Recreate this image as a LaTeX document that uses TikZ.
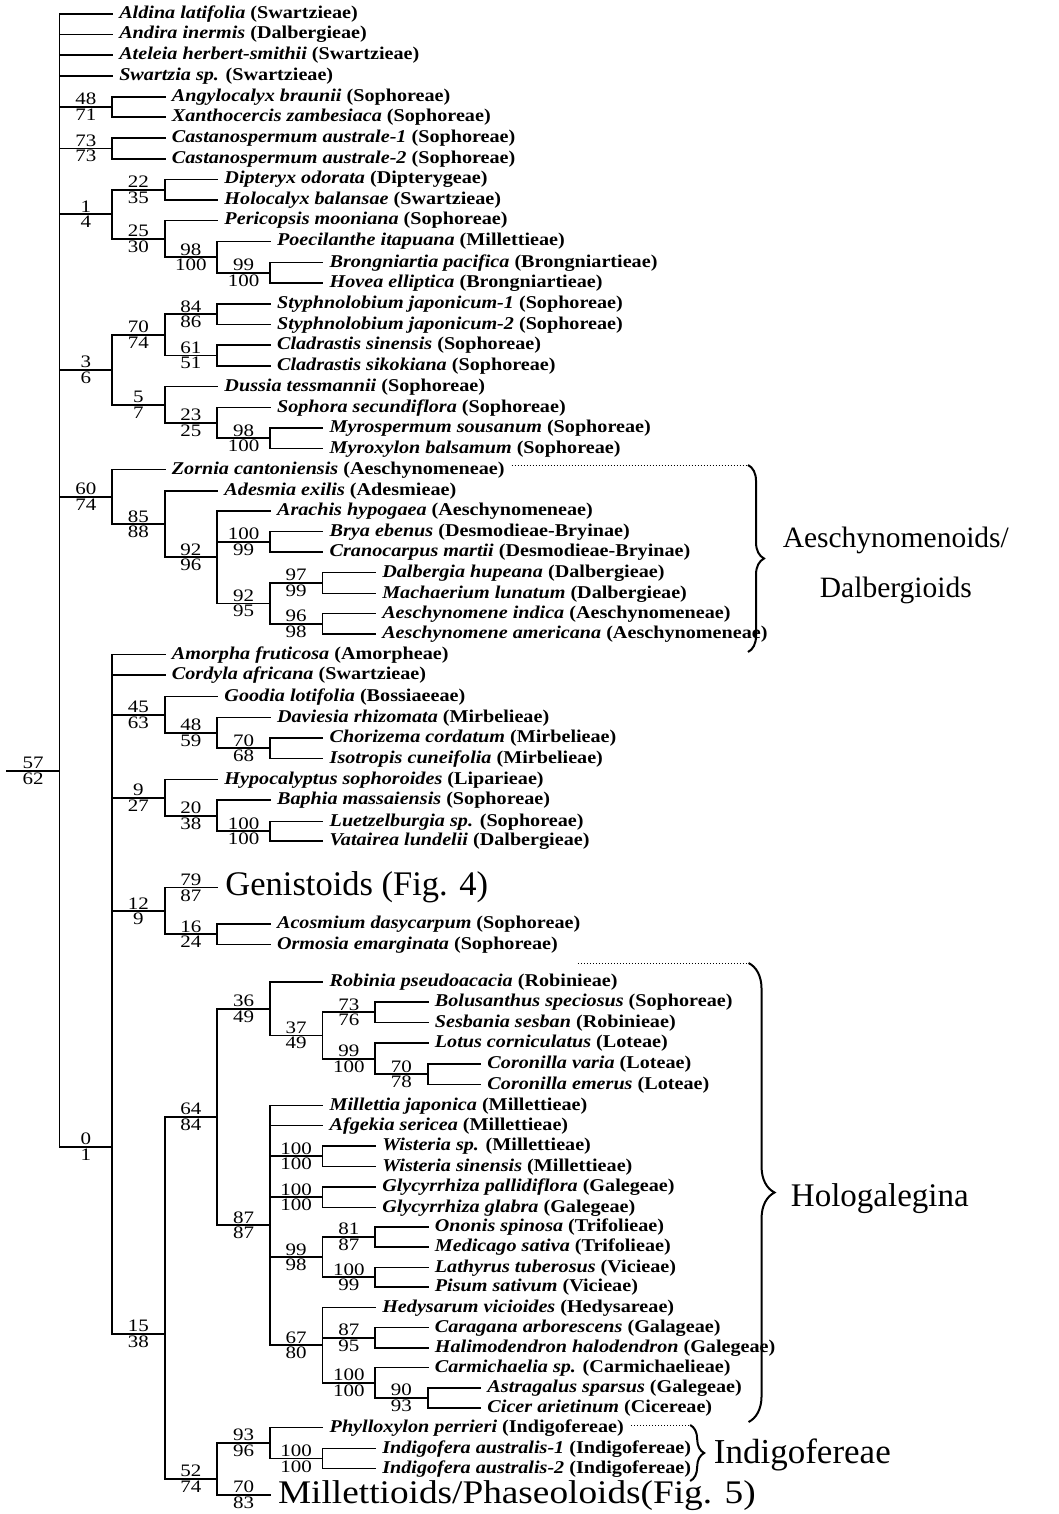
\documentclass[tikz,border=0pt]{standalone}
\usepackage{fontspec}
\setmainfont{Liberation Serif}
\newfontfamily\taxfont{Liberation Serif}[FakeStretch=1.12]
\newfontfamily\numfont{Liberation Serif}[FakeStretch=1.2]
\newfontfamily\wideserif{Liberation Serif}[FakeStretch=1.13]
\usetikzlibrary{decorations.pathreplacing}
\newcommand{\taxon}[2]{\textbf{\textit{#1}} \textbf{(#2)}}
\tikzset{
  branch/.style={line width=1.8pt, line cap=rect},
  taxon/.style={anchor=west, inner xsep=7pt, inner ysep=0pt, text height=13pt,
    text depth=4pt, font=\taxfont\fontsize{18}{20}\selectfont},
  up/.style={above, inner sep=1pt, font=\numfont\fontsize{17.5}{18}\selectfont},
  dn/.style={below, inner sep=1pt, font=\numfont\fontsize{17.5}{18}\selectfont},
  group/.style={anchor=west, inner xsep=8pt, inner ysep=0pt, text height=22pt,
    text depth=6pt, font=\fontsize{33}{40}\selectfont},
  hint/.style={dotted, line width=1pt},
  curly/.style={decorate, decoration={brace, amplitude=#1}, line width=2pt},
}
\begin{document}
\begin{tikzpicture}[x=52.6pt, y=-1pt]
\useasboundingbox (-1.131,0) rectangle (19.002,1514);

\coordinate (stem) at (-1,771);
\coordinate (root) at (0,771);
\coordinate (cl-angy) at (1,107);
\coordinate (cl-cast) at (1,148.5);
\coordinate (cl-dipg) at (1,214.3);
\coordinate (cl-dipt) at (2,189.75);
\coordinate (cl-peri) at (2,238.8);
\coordinate (cl-poec) at (3,257.1);
\coordinate (cl-bron) at (4,272.75);
\coordinate (cl-stpg) at (1,369.8);
\coordinate (cl-clag) at (2,334.9);
\coordinate (cl-styp) at (3,314.25);
\coordinate (cl-clad) at (3,355.5);
\coordinate (cl-duss) at (2,404.7);
\coordinate (cl-soph) at (3,422.9);
\coordinate (cl-myro) at (4,438.25);
\coordinate (cl-aesg) at (1,496.8);
\coordinate (cl-ades) at (2,524.1);
\coordinate (cl-arac) at (3,557.2);
\coordinate (cl-brya) at (4,541.75);
\coordinate (cl-dalg) at (4,603.4);
\coordinate (cl-dalb) at (5,583);
\coordinate (cl-aesc) at (5,623.75);
\coordinate (cl-papi) at (1,1147);
\coordinate (cl-good) at (2,714.7);
\coordinate (cl-davi) at (3,732.9);
\coordinate (cl-chor) at (4,748.25);
\coordinate (cl-hypo) at (2,797.6);
\coordinate (cl-baph) at (3,815.6);
\coordinate (cl-luet) at (4,831.25);
\coordinate (cl-geng) at (2,911);
\coordinate (cl-acos) at (3,934.25);
\coordinate (cl-core) at (2,1334);
\coordinate (cl-holo) at (3,1117);
\coordinate (cl-robi) at (4,1008.7);
\coordinate (cl-bolg) at (5,1035.4);
\coordinate (cl-bolu) at (6,1012.25);
\coordinate (cl-lotu) at (6,1058.6);
\coordinate (cl-coro) at (7,1074.25);
\coordinate (cl-mill) at (4,1225.3);
\coordinate (cl-wist) at (5,1156.25);
\coordinate (cl-glyc) at (5,1197.25);
\coordinate (cl-onog) at (5,1257.1);
\coordinate (cl-onon) at (6,1237);
\coordinate (cl-lath) at (6,1277.25);
\coordinate (cl-hedg) at (5,1345.1);
\coordinate (cl-cara) at (6,1337.75);
\coordinate (cl-carm) at (6,1382.75);
\coordinate (cl-astr) at (7,1398);
\coordinate (cl-indg) at (3,1479);
\coordinate (cl-phyl) at (4,1443);
\coordinate (cl-indi) at (5,1458.5);

\node[taxon] (aldina) at (1,14) {\taxon{Aldina latifolia}{Swartzieae}};
\node[taxon] (andira) at (1,34.5) {\taxon{Andira inermis}{Dalbergieae}};
\node[taxon] (ateleia) at (1,55) {\taxon{Ateleia herbert-smithii}{Swartzieae}};
\node[taxon] (swartzia) at (1,76) {\taxon{Swartzia sp.}{Swartzieae}};
\node[taxon] (angy) at (2,97) {\taxon{Angylocalyx braunii}{Sophoreae}};
\node[taxon] (xant) at (2,117) {\taxon{Xanthocercis zambesiaca}{Sophoreae}};
\node[taxon] (cast1) at (2,138) {\taxon{Castanospermum australe-1}{Sophoreae}};
\node[taxon] (cast2) at (2,159) {\taxon{Castanospermum australe-2}{Sophoreae}};
\node[taxon] (dipt) at (3,179.5) {\taxon{Dipteryx odorata}{Dipterygeae}};
\node[taxon] (holc) at (3,200) {\taxon{Holocalyx balansae}{Swartzieae}};
\node[taxon] (peri) at (3,220.5) {\taxon{Pericopsis mooniana}{Sophoreae}};
\node[taxon] (poec) at (4,241.5) {\taxon{Poecilanthe itapuana}{Millettieae}};
\node[taxon] (bron) at (5,262.5) {\taxon{Brongniartia pacifica}{Brongniartieae}};
\node[taxon] (hove) at (5,283) {\taxon{Hovea elliptica}{Brongniartieae}};
\node[taxon] (styp1) at (4,304) {\taxon{Styphnolobium japonicum-1}{Sophoreae}};
\node[taxon] (styp2) at (4,324.5) {\taxon{Styphnolobium japonicum-2}{Sophoreae}};
\node[taxon] (clsin) at (4,345) {\taxon{Cladrastis sinensis}{Sophoreae}};
\node[taxon] (clsik) at (4,366) {\taxon{Cladrastis sikokiana}{Sophoreae}};
\node[taxon] (duss) at (3,386.5) {\taxon{Dussia tessmannii}{Sophoreae}};
\node[taxon] (soph) at (4,407.5) {\taxon{Sophora secundiflora}{Sophoreae}};
\node[taxon] (myrsp) at (5,428) {\taxon{Myrospermum sousanum}{Sophoreae}};
\node[taxon] (myrxy) at (5,448.5) {\taxon{Myroxylon balsamum}{Sophoreae}};
\node[taxon] (zorn) at (2,469.5) {\taxon{Zornia cantoniensis}{Aeschynomeneae}};
\node[taxon] (ades) at (3,491) {\taxon{Adesmia exilis}{Adesmieae}};
\node[taxon] (arac) at (4,511) {\taxon{Arachis hypogaea}{Aeschynomeneae}};
\node[taxon] (brya) at (5,531.5) {\taxon{Brya ebenus}{Desmodieae-Bryinae}};
\node[taxon] (cran) at (5,552) {\taxon{Cranocarpus martii}{Desmodieae-Bryinae}};
\node[taxon] (dalb) at (6,572.5) {\taxon{Dalbergia hupeana}{Dalbergieae}};
\node[taxon] (mach) at (6,593.5) {\taxon{Machaerium lunatum}{Dalbergieae}};
\node[taxon] (aeind) at (6,613.5) {\taxon{Aeschynomene indica}{Aeschynomeneae}};
\node[taxon] (aeame) at (6,634) {\taxon{Aeschynomene americana}{Aeschynomeneae}};
\node[taxon] (amor) at (2,654.5) {\taxon{Amorpha fruticosa}{Amorpheae}};
\node[taxon] (cord) at (2,675) {\taxon{Cordyla africana}{Swartzieae}};
\node[taxon] (good) at (3,696.5) {\taxon{Goodia lotifolia}{Bossiaeeae}};
\node[taxon] (davi) at (4,717.5) {\taxon{Daviesia rhizomata}{Mirbelieae}};
\node[taxon] (chor) at (5,738) {\taxon{Chorizema cordatum}{Mirbelieae}};
\node[taxon] (isot) at (5,758.5) {\taxon{Isotropis cuneifolia}{Mirbelieae}};
\node[taxon] (hypo) at (3,779.5) {\taxon{Hypocalyptus sophoroides}{Liparieae}};
\node[taxon] (baph) at (4,800) {\taxon{Baphia massaiensis}{Sophoreae}};
\node[taxon] (luet) at (5,821.5) {\taxon{Luetzelburgia sp.}{Sophoreae}};
\node[taxon] (vata) at (5,841) {\taxon{Vatairea lundelii}{Dalbergieae}};
\node[group, font=\fontsize{34.5}{40}\selectfont] (geni) at (3,887.5) {Genistoids (Fig. 4)};
\node[taxon] (acos) at (4,924) {\taxon{Acosmium dasycarpum}{Sophoreae}};
\node[taxon] (ormo) at (4,944.5) {\taxon{Ormosia emarginata}{Sophoreae}};
\node[taxon] (robi) at (5,982) {\taxon{Robinia pseudoacacia}{Robinieae}};
\node[taxon] (bolu) at (7,1002) {\taxon{Bolusanthus speciosus}{Sophoreae}};
\node[taxon] (sesb) at (7,1022.5) {\taxon{Sesbania sesban}{Robinieae}};
\node[taxon] (lotu) at (7,1043) {\taxon{Lotus corniculatus}{Loteae}};
\node[taxon] (corva) at (8,1064) {\taxon{Coronilla varia}{Loteae}};
\node[taxon] (corem) at (8,1084.5) {\taxon{Coronilla emerus}{Loteae}};
\node[taxon] (mija) at (5,1105.5) {\taxon{Millettia japonica}{Millettieae}};
\node[taxon] (afge) at (5,1125.5) {\taxon{Afgekia sericea}{Millettieae}};
\node[taxon] (wisp) at (6,1146) {\taxon{Wisteria sp.}{Millettieae}};
\node[taxon] (wisi) at (6,1166.5) {\taxon{Wisteria sinensis}{Millettieae}};
\node[taxon] (glyp) at (6,1187) {\taxon{Glycyrrhiza pallidiflora}{Galegeae}};
\node[taxon] (glyg) at (6,1207.5) {\taxon{Glycyrrhiza glabra}{Galegeae}};
\node[taxon] (onsp) at (7,1227) {\taxon{Ononis spinosa}{Trifolieae}};
\node[taxon] (mesa) at (7,1247) {\taxon{Medicago sativa}{Trifolieae}};
\node[taxon] (latu) at (7,1267.5) {\taxon{Lathyrus tuberosus}{Vicieae}};
\node[taxon] (pisa) at (7,1287) {\taxon{Pisum sativum}{Vicieae}};
\node[taxon] (hedy) at (6,1307.5) {\taxon{Hedysarum vicioides}{Hedysareae}};
\node[taxon] (caar) at (7,1327.5) {\taxon{Caragana arborescens}{Galageae}};
\node[taxon] (haha) at (7,1348) {\taxon{Halimodendron halodendron}{Galegeae}};
\node[taxon] (casp) at (7,1367.5) {\taxon{Carmichaelia sp.}{Carmichaelieae}};
\node[taxon] (assp) at (8,1388) {\taxon{Astragalus sparsus}{Galegeae}};
\node[taxon] (ciar) at (8,1408) {\taxon{Cicer arietinum}{Cicereae}};
\node[taxon] (phpe) at (5,1427.5) {\taxon{Phylloxylon perrieri}{Indigofereae}};
\node[taxon] (inau1) at (6,1448.5) {\taxon{Indigofera australis-1}{Indigofereae}};
\node[taxon] (inau2) at (6,1468.5) {\taxon{Indigofera australis-2}{Indigofereae}};
\node[group, font=\wideserif\fontsize{33}{40}\selectfont] (milph) at (4,1495) {Millettioids/Phaseoloids(Fig. 5)};

\draw[branch] (stem) -- node[up]{57} node[dn]{62} (root);
\draw[branch] (root) |- (aldina);
\draw[branch] (root) |- (andira);
\draw[branch] (root) |- (ateleia);
\draw[branch] (root) |- (swartzia);
\draw[branch] (root) |- node[up,pos=.75]{48} node[dn,pos=.75]{71} (cl-angy);
\draw[branch] (cl-angy) |- (angy);
\draw[branch] (cl-angy) |- (xant);
\draw[branch] (root) |- node[up,pos=.75]{73} node[dn,pos=.75]{73} (cl-cast);
\draw[branch] (cl-cast) |- (cast1);
\draw[branch] (cl-cast) |- (cast2);
\draw[branch] (root) |- node[up,pos=.75]{1} node[dn,pos=.75]{4} (cl-dipg);
\draw[branch] (cl-dipg) |- node[up,pos=.75]{22} node[dn,pos=.75]{35} (cl-dipt);
\draw[branch] (cl-dipt) |- (dipt);
\draw[branch] (cl-dipt) |- (holc);
\draw[branch] (cl-dipg) |- node[up,pos=.75]{25} node[dn,pos=.75]{30} (cl-peri);
\draw[branch] (cl-peri) |- (peri);
\draw[branch] (cl-peri) |- node[up,pos=.75]{98} node[dn,pos=.75]{100} (cl-poec);
\draw[branch] (cl-poec) |- (poec);
\draw[branch] (cl-poec) |- node[up,pos=.75]{99} node[dn,pos=.75]{100} (cl-bron);
\draw[branch] (cl-bron) |- (bron);
\draw[branch] (cl-bron) |- (hove);
\draw[branch] (root) |- node[up,pos=.75]{3} node[dn,pos=.75]{6} (cl-stpg);
\draw[branch] (cl-stpg) |- node[up,pos=.75]{70} node[dn,pos=.75]{74} (cl-clag);
\draw[branch] (cl-clag) |- node[up,pos=.75]{84} node[dn,pos=.75]{86} (cl-styp);
\draw[branch] (cl-styp) |- (styp1);
\draw[branch] (cl-styp) |- (styp2);
\draw[branch] (cl-clag) |- node[up,pos=.75]{61} node[dn,pos=.75]{51} (cl-clad);
\draw[branch] (cl-clad) |- (clsin);
\draw[branch] (cl-clad) |- (clsik);
\draw[branch] (cl-stpg) |- node[up,pos=.75]{5} node[dn,pos=.75]{7} (cl-duss);
\draw[branch] (cl-duss) |- (duss);
\draw[branch] (cl-duss) |- node[up,pos=.75]{23} node[dn,pos=.75]{25} (cl-soph);
\draw[branch] (cl-soph) |- (soph);
\draw[branch] (cl-soph) |- node[up,pos=.75]{98} node[dn,pos=.75]{100} (cl-myro);
\draw[branch] (cl-myro) |- (myrsp);
\draw[branch] (cl-myro) |- (myrxy);
\draw[branch] (root) |- node[up,pos=.75]{60} node[dn,pos=.75]{74} (cl-aesg);
\draw[branch] (cl-aesg) |- (zorn);
\draw[branch] (cl-aesg) |- node[up,pos=.75]{85} node[dn,pos=.75]{88} (cl-ades);
\draw[branch] (cl-ades) |- (ades);
\draw[branch] (cl-ades) |- node[up,pos=.75]{92} node[dn,pos=.75]{96} (cl-arac);
\draw[branch] (cl-arac) |- (arac);
\draw[branch] (cl-arac) |- node[up,pos=.75]{100} node[dn,pos=.75]{99} (cl-brya);
\draw[branch] (cl-brya) |- (brya);
\draw[branch] (cl-brya) |- (cran);
\draw[branch] (cl-arac) |- node[up,pos=.75]{92} node[dn,pos=.75]{95} (cl-dalg);
\draw[branch] (cl-dalg) |- node[up,pos=.75]{97} node[dn,pos=.75]{99} (cl-dalb);
\draw[branch] (cl-dalb) |- (dalb);
\draw[branch] (cl-dalb) |- (mach);
\draw[branch] (cl-dalg) |- node[up,pos=.75]{96} node[dn,pos=.75]{98} (cl-aesc);
\draw[branch] (cl-aesc) |- (aeind);
\draw[branch] (cl-aesc) |- (aeame);
\draw[branch] (root) |- node[up,pos=.75]{0} node[dn,pos=.75]{1} (cl-papi);
\draw[branch] (cl-papi) |- (amor);
\draw[branch] (cl-papi) |- (cord);
\draw[branch] (cl-papi) |- node[up,pos=.75]{45} node[dn,pos=.75]{63} (cl-good);
\draw[branch] (cl-good) |- (good);
\draw[branch] (cl-good) |- node[up,pos=.75]{48} node[dn,pos=.75]{59} (cl-davi);
\draw[branch] (cl-davi) |- (davi);
\draw[branch] (cl-davi) |- node[up,pos=.75]{70} node[dn,pos=.75]{68} (cl-chor);
\draw[branch] (cl-chor) |- (chor);
\draw[branch] (cl-chor) |- (isot);
\draw[branch] (cl-papi) |- node[up,pos=.75]{9} node[dn,pos=.75]{27} (cl-hypo);
\draw[branch] (cl-hypo) |- (hypo);
\draw[branch] (cl-hypo) |- node[up,pos=.75]{20} node[dn,pos=.75]{38} (cl-baph);
\draw[branch] (cl-baph) |- (baph);
\draw[branch] (cl-baph) |- node[up,pos=.75]{100} node[dn,pos=.75]{100} (cl-luet);
\draw[branch] (cl-luet) |- (luet);
\draw[branch] (cl-luet) |- (vata);
\draw[branch] (cl-papi) |- node[up,pos=.75]{12} node[dn,pos=.75]{9} (cl-geng);
\draw[branch] (cl-geng) |- node[up,pos=.75]{79} node[dn,pos=.75]{87} (geni);
\draw[branch] (cl-geng) |- node[up,pos=.75]{16} node[dn,pos=.75]{24} (cl-acos);
\draw[branch] (cl-acos) |- (acos);
\draw[branch] (cl-acos) |- (ormo);
\draw[branch] (cl-papi) |- node[up,pos=.75]{15} node[dn,pos=.75]{38} (cl-core);
\draw[branch] (cl-core) |- node[up,pos=.75]{64} node[dn,pos=.75]{84} (cl-holo);
\draw[branch] (cl-holo) |- node[up,pos=.75]{36} node[dn,pos=.75]{49} (cl-robi);
\draw[branch] (cl-robi) |- (robi);
\draw[branch] (cl-robi) |- node[up,pos=.75]{37} node[dn,pos=.75]{49} (cl-bolg);
\draw[branch] (cl-bolg) |- node[up,pos=.75]{73} node[dn,pos=.75]{76} (cl-bolu);
\draw[branch] (cl-bolu) |- (bolu);
\draw[branch] (cl-bolu) |- (sesb);
\draw[branch] (cl-bolg) |- node[up,pos=.75]{99} node[dn,pos=.75]{100} (cl-lotu);
\draw[branch] (cl-lotu) |- (lotu);
\draw[branch] (cl-lotu) |- node[up,pos=.75]{70} node[dn,pos=.75]{78} (cl-coro);
\draw[branch] (cl-coro) |- (corva);
\draw[branch] (cl-coro) |- (corem);
\draw[branch] (cl-holo) |- node[up,pos=.75]{87} node[dn,pos=.75]{87} (cl-mill);
\draw[branch] (cl-mill) |- (mija);
\draw[branch] (cl-mill) |- (afge);
\draw[branch] (cl-mill) |- node[up,pos=.75]{100} node[dn,pos=.75]{100} (cl-wist);
\draw[branch] (cl-wist) |- (wisp);
\draw[branch] (cl-wist) |- (wisi);
\draw[branch] (cl-mill) |- node[up,pos=.75]{100} node[dn,pos=.75]{100} (cl-glyc);
\draw[branch] (cl-glyc) |- (glyp);
\draw[branch] (cl-glyc) |- (glyg);
\draw[branch] (cl-mill) |- node[up,pos=.75]{99} node[dn,pos=.75]{98} (cl-onog);
\draw[branch] (cl-onog) |- node[up,pos=.75]{81} node[dn,pos=.75]{87} (cl-onon);
\draw[branch] (cl-onon) |- (onsp);
\draw[branch] (cl-onon) |- (mesa);
\draw[branch] (cl-onog) |- node[up,pos=.75]{100} node[dn,pos=.75]{99} (cl-lath);
\draw[branch] (cl-lath) |- (latu);
\draw[branch] (cl-lath) |- (pisa);
\draw[branch] (cl-mill) |- node[up,pos=.75]{67} node[dn,pos=.75]{80} (cl-hedg);
\draw[branch] (cl-hedg) |- (hedy);
\draw[branch] (cl-hedg) |- node[up,pos=.75]{87} node[dn,pos=.75]{95} (cl-cara);
\draw[branch] (cl-cara) |- (caar);
\draw[branch] (cl-cara) |- (haha);
\draw[branch] (cl-hedg) |- node[up,pos=.75]{100} node[dn,pos=.75]{100} (cl-carm);
\draw[branch] (cl-carm) |- (casp);
\draw[branch] (cl-carm) |- node[up,pos=.75]{90} node[dn,pos=.75]{93} (cl-astr);
\draw[branch] (cl-astr) |- (assp);
\draw[branch] (cl-astr) |- (ciar);
\draw[branch] (cl-core) |- node[up,pos=.75]{52} node[dn,pos=.75]{74} (cl-indg);
\draw[branch] (cl-indg) |- node[up,pos=.75]{93} node[dn,pos=.75]{96} (cl-phyl);
\draw[branch] (cl-phyl) |- (phpe);
\draw[branch] (cl-phyl) |- node[up,pos=.75]{100} node[dn,pos=.75]{100} (cl-indi);
\draw[branch] (cl-indi) |- (inau1);
\draw[branch] (cl-indi) |- (inau2);
\draw[branch] (cl-indg) |- node[up,pos=.75]{70} node[dn,pos=.75]{83} (milph);

\coordinate (aes-top) at (13.09,465);
\coordinate (aes-bot) at (13.09,652);
\draw[hint] (zorn.east |- aes-top) -- (aes-top);
\draw[curly=16pt] (aes-top) -- (aes-bot);
\node[align=center, inner sep=0pt, font=\fontsize{29.5}{50}\selectfont] (aesname)
  at (15.9,565) {Aeschynomenoids/\\Dalbergioids};

\coordinate (holo-dot) at (9.857,963);
\coordinate (holo-top) at (13.1,963);
\coordinate (holo-bot) at (13.1,1422);
\draw[hint] (holo-dot) -- (holo-top);
\draw[curly=26pt] (holo-top) -- (holo-bot);
\node[group] (holoname) at (13.75,1198) {Hologalegina};

\coordinate (ind-top) at (11.99,1425);
\coordinate (ind-bot) at (11.99,1481);
\draw[hint] (phpe.east |- ind-top) -- (ind-top);
\draw[curly=14pt] (ind-top) -- (ind-bot);
\node[group, inner xsep=2pt, font=\fontsize{35}{40}\selectfont] (indname) at (12.4,1455) {Indigofereae};
\end{tikzpicture}
\end{document}
